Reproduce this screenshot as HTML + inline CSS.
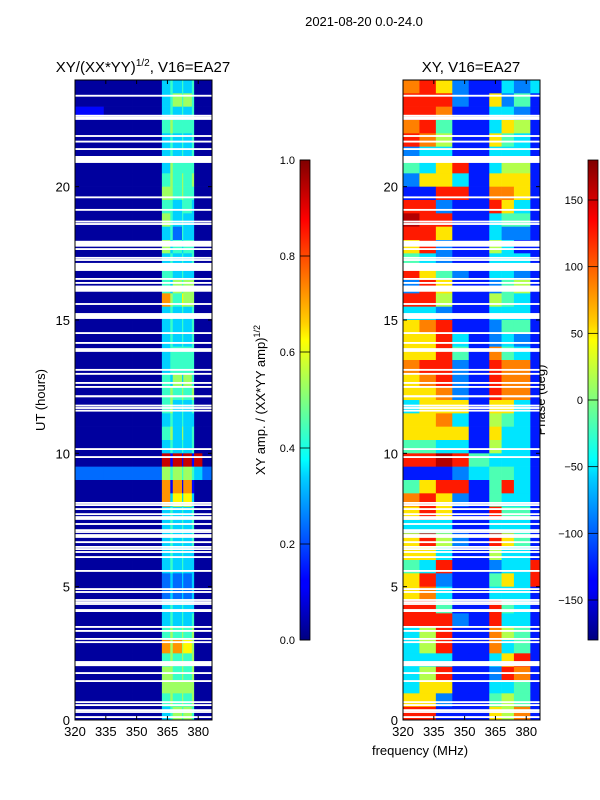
<!DOCTYPE html>
<html><head><meta charset="utf-8"><style>
body{margin:0;background:#fff;}
svg{display:block;font-family:"Liberation Sans",sans-serif;}
</style></head><body>
<svg id="fig" width="600" height="800" xmlns="http://www.w3.org/2000/svg">
<defs>
<linearGradient id="jet" x1="0" y1="1" x2="0" y2="0">
<stop offset="0" stop-color="#000080"/><stop offset="0.11" stop-color="#0000ff"/><stop offset="0.125" stop-color="#0000ff"/>
<stop offset="0.34" stop-color="#00d0ff"/><stop offset="0.375" stop-color="#00ffff"/><stop offset="0.5" stop-color="#7fff7f"/>
<stop offset="0.625" stop-color="#ffff00"/><stop offset="0.66" stop-color="#ffd000"/><stop offset="0.875" stop-color="#ff0000"/><stop offset="1" stop-color="#800000"/>
</linearGradient>
</defs>
<text x="364" y="26" font-size="13" text-anchor="middle">2021-08-20 0.0-24.0</text>
<text x="143" y="72" font-size="15" text-anchor="middle">XY/(XX*YY)<tspan font-size="10" dy="-6">1/2</tspan><tspan dy="6">, V16=EA27</tspan></text>
<text x="471" y="72" font-size="15" text-anchor="middle">XY, V16=EA27</text>
<text transform="translate(45,400) rotate(-90)" font-size="13" text-anchor="middle">UT (hours)</text>
<text x="420" y="755" font-size="13" text-anchor="middle">frequency (MHz)</text>
<text transform="translate(265,400) rotate(-90)" font-size="13" text-anchor="middle">XY amp. / (XX*YY amp)<tspan font-size="9" dy="-5">1/2</tspan></text>
<text transform="translate(545,400) rotate(-90)" font-size="13" text-anchor="middle">Phase (deg)</text>
<g id="left"></g>
<g id="right"></g>
<g id="gaps"></g>
<g id="axes"></g>
<rect x="300" y="160" width="10" height="480" fill="url(#jet)" stroke="#000" stroke-width="0.8"/>
<rect x="588" y="160" width="10" height="480" fill="url(#jet)" stroke="#000" stroke-width="0.8"/>
<g id="cbticks"></g>
</svg>
<script>
// ---- data ----
const timeRowStarts = [23.5,23,22.5,22,21.5,21,20.5,20,19.5,19,18.5,18,17.5,17,16.5,16,15.5,15,14.5,14,13.5,13,12.5,12,11.5,11,10.5,10,9.5,9,8.5,8,7.5,7,6.5,6,5.5,5,4.5,4,3.5,3,2.5,2,1.5,1,0.5,0];
const ampFreqEdges = [320,334,348,362.3,366.4,367.6,372.1,372.7,376.9,378,382,386.7];
const ampRows = ["00034343400","00034545400","10034343400","00045444400","00034343400","00034343400","00035444400","00045454500","00055454400","00044344300","00054343300","00034243300","00053434400","00034343400","00044343300","00043545500","00075465500","00034343400","00034343400","00034343400","00034444400","00034444400","00043535400","00045454500","00045343400","00034343300","00045353400","00034343400","00091919190","22254545432","00071717100","00073636300","00034343400","00034343400","00034343400","00034343300","00034343300","00023232300","00023232300","00034343300","00034343400","00045454500","00075756500","00045454500","00055454500","00055555500","00045454500","00034545400"];
const phaseFreqEdges = [320,328,336,344,352,362,368,374,382,386.7];
const phaseRows = ["786211323","888216241","887113321","784113651","875116431","233113331","436813551","266316661","118817761","882118631","988113441","886113221","682115311","432113331","864213321","286112451","885115431","332113331","678112441","668312321","668417431","788218771","678218771","667218771","366616631","667315431","666616331","443315331","889843331","111234431","468814831","786214331","686118441","333113331","685218641","663115331","438112338","682114638","673113331","884118431","888218331","358117541","358117341","333113681","358112871","366113341","662114541","881116571"];
const flagThin = [23.41,22.66,22.59,22.54,21.9,21.69,21.41,19.6,19.13,18.69,18.6,17.66,17.33,17.25,16.54,16.39,15.6,14.51,14.14,13.91,13.84,13.13,12.98,12.64,12.49,11.79,11.7,11.6,10.16,9.86,8.14,8.06,7.91,7.72,7.61,7.54,7.35,7.12,7.05,6.67,6.49,6.41,6.3,6.11,5.59,4.91,4.8,4.5,4.42,4.35,3.49,3.34,3.04,2.92,1.76,1.46,0.67,0.56,0.37,0.3,0.11];
const flagThickStart = [20.89,17.75,16.84,16.06,15.04,12.1,6.83,4.05,2.02];
const flagThickEnd = [21.15,17.97,17.14,16.29,15.26,12.18,6.97,4.16,2.21];
const xTicks = [320,335,350,365,380];
const yTicks = [0,5,10,15,20];
const ampCbTicks = [0,0.2,0.4,0.6,0.8,1.0];
const phaseCbTicks = [-150,-100,-50,0,50,100,150];

// ---- scales ----
const NS="http://www.w3.org/2000/svg";
const T0=80,T1=720;
function yS(h){return T1-(h/24)*(T1-T0);}
function xL(f){return 75+(f-320)*(212-75)/(386.7-320);}
function xR(f){return 403+(f-320)*(540-403)/(386.7-320);}
function clip(v){return Math.max(0,Math.min(1,v));}
function jet(v){const r=clip(1.5-Math.abs(4*v-3)),g=clip(1.5-Math.abs(4*v-2)),b=clip(1.5-Math.abs(4*v-1));return `rgb(${Math.round(r*255)},${Math.round(g*255)},${Math.round(b*255)})`;}
function mk(tag,attrs,parent){const e=document.createElementNS(NS,tag);for(const k in attrs)e.setAttribute(k,attrs[k]);parent.appendChild(e);return e;}

const gL=document.getElementById('left'),gR=document.getElementById('right');
timeRowStarts.forEach((t,i)=>{
  const y0=yS(t+0.5),y1=yS(t);
  for(let j=0;j<ampFreqEdges.length-1;j++){
    const v=parseInt(ampRows[i][j])*0.1+0.03;
    const r=mk('rect',{x:xL(ampFreqEdges[j]),y:y0,width:xL(ampFreqEdges[j+1])-xL(ampFreqEdges[j])+0.3,height:y1-y0+0.3,fill:jet(v)},gL);
    
    
  }
  for(let j=0;j<phaseFreqEdges.length-1;j++){
    const ph=-180+(parseInt(phaseRows[i][j])+0.5)*36;
    const r=mk('rect',{x:xR(phaseFreqEdges[j]),y:y0,width:xR(phaseFreqEdges[j+1])-xR(phaseFreqEdges[j])+0.3,height:y1-y0+0.3,fill:jet((ph+180)/360)},gR);
    
    
  }
});
const gG=document.getElementById('gaps');
function gap(a,b){
  [[75,212],[403,540]].forEach(([x0,x1])=>{
    const r=mk('rect',{x:x0,y:yS(b),width:x1-x0,height:Math.max(1.8,yS(a)-yS(b)),fill:'#fff'},gG);
    
    
  });
}
flagThin.forEach(h=>gap(h-0.035,h+0.035));
flagThickStart.forEach((s,i)=>gap(s,flagThickEnd[i]));

const gA=document.getElementById('axes');
[[75,212,xL],[403,540,xR]].forEach(([x0,x1,xs],k)=>{
  const f=mk('rect',{x:x0,y:T0,width:x1-x0,height:T1-T0,fill:'none',stroke:'#000','stroke-width':1},gA);
  
  
  xTicks.forEach(v=>{
    const x=xs(v);
    mk('line',{x1:x,x2:x,y1:T1,y2:T1-4,stroke:'#000'},gA);
    mk('line',{x1:x,x2:x,y1:T0,y2:T0+4,stroke:'#000'},gA);
    const t=mk('text',{x:x,y:T1+16,'font-size':13,'text-anchor':'middle'},gA);
    t.textContent=v;
    
    
  });
  yTicks.forEach(v=>{
    const y=yS(v);
    mk('line',{x1:x0,x2:x0+4,y1:y,y2:y,stroke:'#000'},gA);
    mk('line',{x1:x1,x2:x1-4,y1:y,y2:y,stroke:'#000'},gA);
    const t=mk('text',{x:x0-5,y:y+5,'font-size':13,'text-anchor':'end'},gA);
    t.textContent=v;
    
    
  });
});
const gC=document.getElementById('cbticks');
ampCbTicks.forEach(v=>{
  const y=640-v*480;
  mk('line',{x1:300,x2:310,y1:y,y2:y,stroke:'#000','stroke-width':0.8},gC);
  const t=mk('text',{x:295,y:y+4,'font-size':11,'text-anchor':'end'},gC);
  t.textContent=v.toFixed(1);
  
  
});
phaseCbTicks.forEach(v=>{
  const y=640-(v+180)/360*480;
  mk('line',{x1:588,x2:598,y1:y,y2:y,stroke:'#000','stroke-width':0.8},gC);
  const t=mk('text',{x:583,y:y+4,'font-size':11,'text-anchor':'end'},gC);
  t.textContent=v<0?'\u2212'+Math.abs(v):v;
  
  
});
</script>
</body></html>
